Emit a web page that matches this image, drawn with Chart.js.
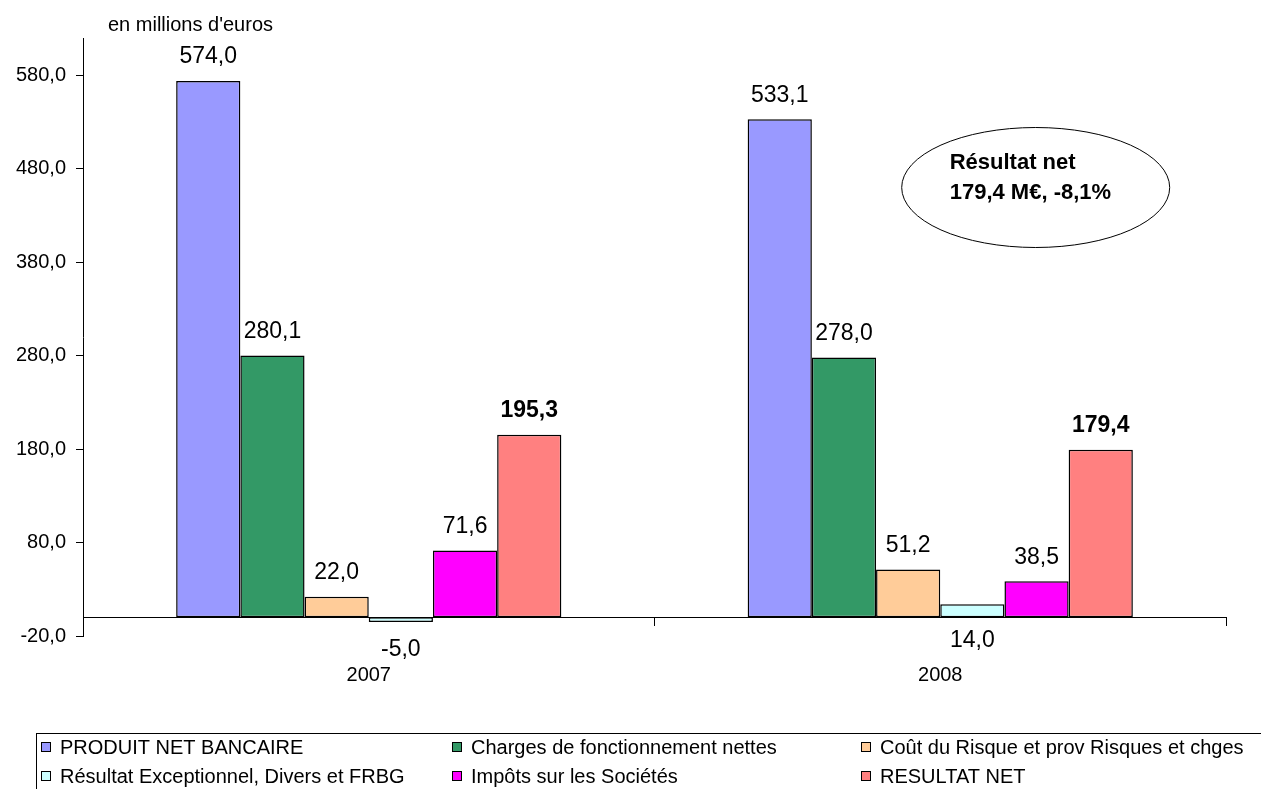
<!DOCTYPE html>
<html lang="fr">
<head>
<meta charset="utf-8">
<title>Résultat net 2007-2008</title>
<script src="https://cdn.jsdelivr.net/npm/chart.js@4.4.1/dist/chart.umd.min.js"></script>
<style>
    html, body { margin: 0; padding: 0; background: #fff; }
    #wrap { width: 1261px; height: 789px; position: relative; }
</style>
</head>
<body>
<div id="wrap"><canvas id="chart"></canvas></div>
<script>
// --- data ---
const years = ['2007', '2008'];
const seriesNames = [
    'PRODUIT NET BANCAIRE',
    'Charges de fonctionnement nettes',
    'Coût du Risque et prov Risques et chges',
    'Résultat Exceptionnel, Divers et FRBG',
    'Impôts sur les Sociétés',
    'RESULTAT NET'
];
const produitNetBancaire = [574.0, 533.1];
const chargesFonctionnement = [280.1, 278.0];
const coutDuRisque = [22.0, 51.2];
const resultatExceptionnel = [-5.0, 14.0];
const impotsSocietes = [71.6, 38.5];
const resultatNet = [195.3, 179.4];
const seriesColors = ['#9999FF', '#339966', '#FFCC99', '#CCFFFF', '#FF00FF', '#FF8080'];
const yTicks = [-20, 80, 180, 280, 380, 480, 580];

const FONT = 'Arial, "Liberation Sans", Helvetica, sans-serif';

function frNumber(v) {
    return v.toFixed(1).replace('.', ',');
}

const allSeries = [produitNetBancaire, chargesFonctionnement, coutDuRisque,
    resultatExceptionnel, impotsSocietes, resultatNet];

const datasets = allSeries.map((values, i) => ({
    label: seriesNames[i],
    data: values,
    backgroundColor: seriesColors[i],
    borderColor: '#000',
    borderWidth: 1.5,
    borderSkipped: false,
    categoryPercentage: 0.674,
    barPercentage: 1.0
}));

// draws value labels, the note, the title and the legend box
const decorPlugin = {
    id: 'decor',
    afterDatasetsDraw(chart) {
        const ctx = chart.ctx;
        const yScale = chart.scales.y;
        const xScale = chart.scales.x;
        ctx.save();
        ctx.fillStyle = '#000';
        ctx.textAlign = 'center';
        ctx.textBaseline = 'middle';

        chart.data.datasets.forEach((ds, di) => {
            const meta = chart.getDatasetMeta(di);
            const bold = di === 5;
            ctx.font = (bold ? 'bold ' : '') + '23px ' + FONT;
            meta.data.forEach((bar, i) => {
                const v = ds.data[i];
                let y;
                if (di === 3) {
                    // this series is labelled under the axis
                    y = Math.max(bar.y, bar.base) + (v < 0 ? 28 : 23);
                } else {
                    y = Math.min(bar.y, bar.base) - 24;
                }
                ctx.fillText(frNumber(v), bar.x, y);
            });
        });

        // title
        ctx.font = '20px ' + FONT;
        ctx.textAlign = 'left';
        ctx.fillText("en millions d'euros", 108, 25);

        // note ellipse
        const cx = xScale.getPixelForValue(1.167);
        const cy = yScale.getPixelForValue(460);
        ctx.beginPath();
        ctx.ellipse(cx, cy, 134, 60, 0, 0, Math.PI * 2);
        ctx.lineWidth = 1;
        ctx.strokeStyle = '#000';
        ctx.stroke();
        ctx.font = 'bold 22px ' + FONT;
        ctx.fillText('Résultat net', cx - 86, cy - 25);
        ctx.fillText('179,4 M€, -8,1%', cx - 86, cy + 5);

        // legend
        ctx.strokeRect(36.5, 733.5, 1300, 100);
        const cols = [41, 452, 861];
        const rows = [747, 776];
        ctx.font = '20px ' + FONT;
        chart.data.datasets.forEach((ds, di) => {
            const x = cols[di % 3];
            const y = rows[Math.floor(di / 3)];
            ctx.fillStyle = ds.backgroundColor;
            ctx.fillRect(x, y - 5, 10, 10);
            ctx.strokeStyle = '#000';
            ctx.lineWidth = 1;
            ctx.strokeRect(x + 0.5, y - 4.5, 9, 9);
            ctx.fillStyle = '#000';
            ctx.fillText(ds.label, x + 19, y + 1);
        });
        ctx.restore();
    }
};

new Chart(document.getElementById('chart'), {
    type: 'bar',
    data: { labels: years, datasets },
    options: {
        responsive: true,
        maintainAspectRatio: false,
        animation: false,
        devicePixelRatio: 1,
        layout: { padding: { top: 38, right: 35, bottom: 153, left: 0 } },
        plugins: {
            legend: { display: false },
            tooltip: { enabled: false },
            title: { display: false }
        },
        scales: {
            x: {
                type: 'category',
                position: { y: 0 },
                offset: true,
                grid: {
                    display: true,
                    offset: true,
                    drawOnChartArea: false,
                    drawTicks: true,
                    tickLength: 8,
                    color: '#000',
                    lineWidth: 1
                },
                border: { display: true, color: '#000', width: 1 },
                ticks: {
                    color: '#000',
                    padding: 38,
                    font: { family: FONT, size: 20 }
                }
            },
            y: {
                min: -20,
                max: 620,
                afterBuildTicks(scale) {
                    scale.ticks = yTicks.map(v => ({ value: v }));
                },
                afterFit(scale) {
                    scale.width = 83;
                },
                grid: {
                    display: true,
                    drawOnChartArea: false,
                    drawTicks: true,
                    tickLength: 7,
                    color: '#000',
                    lineWidth: 1
                },
                border: { display: true, color: '#000', width: 1 },
                ticks: {
                    color: '#000',
                    padding: 10,
                    font: { family: FONT, size: 20 },
                    callback: (v) => frNumber(v)
                }
            }
        }
    },
    plugins: [decorPlugin]
});
</script>
</body>
</html>
